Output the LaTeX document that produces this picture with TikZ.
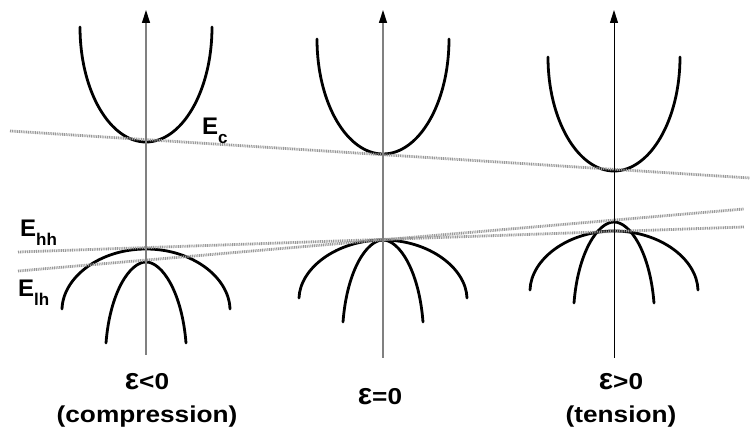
\documentclass[tikz,border=0pt]{standalone}
\usepackage{fontspec}
\setmainfont{Liberation Sans}
\newfontfamily\widefont[FakeStretch=1.14]{Liberation Sans}
\usetikzlibrary{arrows.meta}
\newcommand{\sublab}[1]{\raisebox{-8.5pt}{\fontsize{17}{17}\selectfont #1}}
\newcommand{\eps}{\scalebox{1.15}[1.3]{ε}}
\begin{document}
\begin{tikzpicture}[x=1pt,y=-1pt,
  band/.style={line width=2.8pt, line cap=round},
  level/.style={gray!80, line width=2.8pt, dash pattern=on 1pt off 0.8pt},
  axis/.style={gray, line width=1.3pt, -{Triangle[length=13pt,width=8pt,color=black]}},
  lab/.style={font=\bfseries\fontsize{24}{28}\selectfont, inner sep=0pt},
  caption/.style={font=\widefont\bfseries\fontsize{23}{28}\selectfont, inner sep=0pt}]
\useasboundingbox (0,0) rectangle (750,430);
\draw[band] (80,27) .. controls (80,91) and (110,142) .. (146,142) .. controls (182,142) and (212,91) .. (212,27);
\draw[band] (317,39) .. controls (317,103) and (347,154) .. (383,154) .. controls (419,154) and (449,103) .. (449,39);
\draw[band] (548,57) .. controls (548,120) and (578,171) .. (614,171) .. controls (650,171) and (680,120) .. (680,57);
\draw[band] (62,309) .. controls (63,277) and (100,249) .. (146,249) .. controls (192,249) and (229,277) .. (230,309);
\draw[band] (299,298) .. controls (300,268) and (337,240) .. (383,240) .. controls (429,240) and (466,268) .. (467,298);
\draw[band] (530,290) .. controls (531,259) and (568,231) .. (614,231) .. controls (660,231) and (697,259) .. (698,290);
\draw[band] (106,343) .. controls (110,292) and (130,262) .. (146,262) .. controls (162,262) and (182,292) .. (186,343);
\draw[band] (343,322) .. controls (347,270) and (367,240) .. (383,240) .. controls (399,240) and (419,270) .. (423,322);
\draw[band] (574,303) .. controls (578,252) and (598,222) .. (614,222) .. controls (630,222) and (650,252) .. (654,303);
\draw[level] (10,131) -- (750,178);
\draw[level] (18,252) -- (744,227);
\draw[level] (18,271) -- (744,209);
\draw[axis] (146,355) -- (146,10);
\draw[axis] (383,358) -- (383,10);
\draw[axis, black, line width=0.9pt] (614,358) -- (614,10);
\node[lab, anchor=base west] (ec) at (202,135) {E\sublab{c}};
\node[lab, anchor=base west] (ehh) at (20,237) {E\sublab{hh}};
\node[lab, anchor=base west] (elh) at (18,297) {E\sublab{lh}};
\node[caption, anchor=base] (comp) at (147,389) {\eps<0};
\node[caption, anchor=base] (compb) at (147,422) {(compression)};
\node[caption, anchor=base] (zero) at (380,405) {\eps=0};
\node[caption, anchor=base] (tens) at (621,390) {\eps>0};
\node[caption, anchor=base] (tensb) at (621,422) {(tension)};
\end{tikzpicture}
\end{document}
